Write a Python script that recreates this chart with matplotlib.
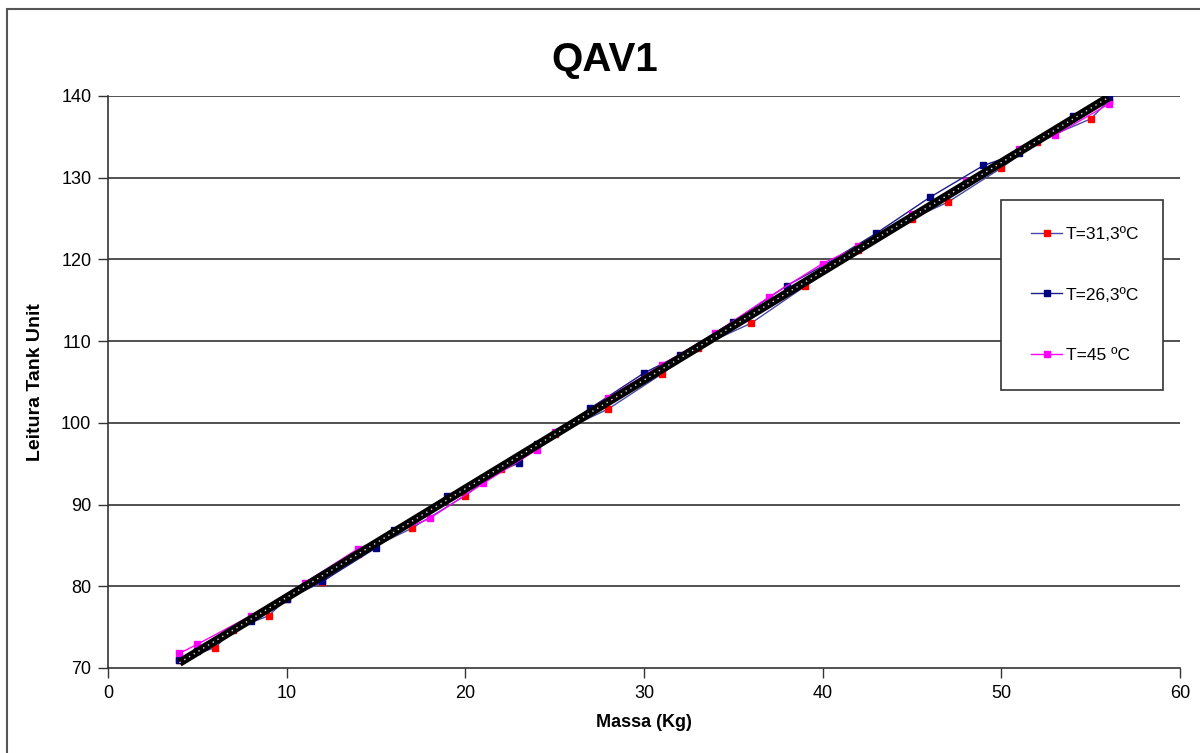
import numpy as np
import matplotlib
matplotlib.use("Agg")
import matplotlib.pyplot as plt
from matplotlib.patches import Rectangle

plt.rcParams['font.family'] = ['Liberation Sans', 'DejaVu Sans']

# Leituras do tank unit por massa, para cada temperatura
massa_31 = [4, 6, 7, 9, 10, 12, 14, 17, 20, 22, 25, 28, 31, 33, 36, 39, 42, 45, 47, 50, 52, 55, 56]
leitura_31 = [71.0, 72.5, 74.7, 76.4, 78.5, 80.5, 83.9, 87.1, 91.1, 94.4, 98.6, 101.7, 106.0,
              109.2, 112.2, 116.7, 121.2, 125.0, 127.0, 131.2, 134.4, 137.2, 139.4]

massa_26 = [4, 5, 8, 10, 12, 15, 16, 19, 21, 23, 24, 27, 30, 32, 35, 38, 40, 43, 46, 49, 51, 54, 56]
leitura_26 = [71.0, 72.1, 75.8, 78.5, 80.6, 84.7, 86.9, 91.1, 93.2, 95.1, 97.4, 101.8, 106.1,
              108.3, 112.4, 116.8, 119.2, 123.2, 127.6, 131.5, 133.0, 137.6, 139.8]

massa_45 = [4, 5, 8, 11, 14, 18, 21, 24, 25, 28, 31, 34, 37, 40, 42, 45, 48, 51, 53, 56]
leitura_45 = [71.8, 72.9, 76.4, 80.4, 84.6, 88.3, 92.6, 96.7, 98.9, 103.1, 107.1, 111.0,
              115.4, 119.5, 121.6, 125.6, 129.6, 133.5, 135.2, 139.0]

legendas = ['T=31,3ºC', 'T=26,3ºC', 'T=45 ºC']

fig = plt.figure(figsize=(12, 7.53), dpi=100)
ax = fig.add_axes([108 / 1200, 1 - 668 / 753, 1072 / 1200, 572 / 753])

# moldura do gráfico
fig.patches.append(Rectangle((7 / 1200, -0.1), 1.2, 1.1 - 9 / 753, transform=fig.transFigure,
                             fill=False, edgecolor='#555555', lw=1.5))

ax.plot(massa_31, leitura_31, color='#4a4aa8', lw=1, marker='s', ms=4.5,
        mfc='#ff0000', mec='#ff0000', label=legendas[0], zorder=3)
ax.plot(massa_26, leitura_26, color='#1c1c8c', lw=1, marker='s', ms=4.5,
        mfc='#000080', mec='#000080', label=legendas[1], zorder=3)
ax.plot(massa_45, leitura_45, color='#ff00ff', lw=1, marker='s', ms=4.5,
        mfc='#ff00ff', mec='#ff00ff', label=legendas[2], zorder=3)

# linha de tendência linear sobre todos os pontos
xs = np.array(massa_31 + massa_26 + massa_45, dtype=float)
ys = np.array(leitura_31 + leitura_26 + leitura_45)
a, b = np.polyfit(xs, ys, 1)
xt = np.array([4, 56])
ax.plot(xt, a * xt + b, color='black', lw=6, solid_capstyle='butt', zorder=4)
ax.plot(xt, a * xt + b, color='#dddddd', lw=1, ls=(0, (1, 3)), zorder=5)

ax.set_xlim(0, 60)
ax.set_ylim(70, 140)
ax.set_xticks(range(0, 61, 10))
ax.set_yticks(range(70, 141, 10))
ax.tick_params(direction='out', length=7, width=1, labelsize=13, color='#333333', pad=5)
for y in range(80, 141, 10):
    ax.axhline(y, color='#333333', lw=1.2, zorder=1)
for s in ['top', 'right']:
    ax.spines[s].set_visible(False)
for s in ['left', 'bottom']:
    ax.spines[s].set_color('#333333')
    ax.spines[s].set_linewidth(1.2)

fig.text(605 / 1200, 1 - 60 / 753, 'QAV1', fontsize=29, fontweight='bold',
         ha='center', va='center')
ax.set_xlabel('Massa (Kg)', fontsize=13, fontweight='bold', labelpad=9)
ax.set_ylabel('Leitura Tank Unit', fontsize=14, fontweight='bold', labelpad=12)

# caixa da legenda
ax.add_patch(Rectangle((1001 / 1200, 1 - 390 / 753), 162 / 1200, 190 / 753,
                       transform=fig.transFigure, facecolor='white', clip_on=False,
                       edgecolor='#333333', lw=1.2, zorder=6))
leg = ax.legend(loc='center left', bbox_to_anchor=(1031 / 1200, 1 - 295 / 753),
                bbox_transform=fig.transFigure, frameon=False, fontsize=12.5,
                labelspacing=2.6, handlelength=1.8, handletextpad=0.2,
                borderpad=0, borderaxespad=0, markerscale=0.9)
leg.set_zorder(7)

fig.savefig('out.png', dpi=100)
